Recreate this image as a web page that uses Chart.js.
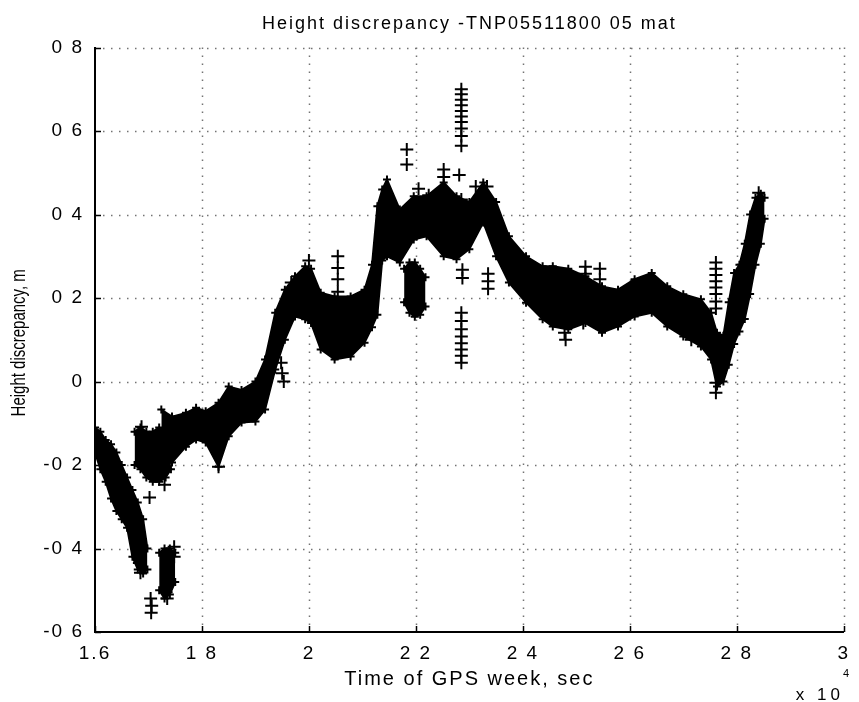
<!DOCTYPE html>
<html>
<head>
<meta charset="utf-8">
<title>Height discrepancy</title>
<script src="https://cdn.jsdelivr.net/npm/chart.js@4.4.1/dist/chart.umd.min.js"></script>
<style>
  html, body { margin: 0; padding: 0; background: #fff; }
  #wrap { width: 859px; height: 702px; }
</style>
</head>
<body>
<div id="wrap"><canvas id="hdChart" width="859" height="702"></canvas></div>
<script>
/* ── axis ticks / labels (as printed on the scan) ── */
const xTicks = [1.6, 1.8, 2.0, 2.2, 2.4, 2.6, 2.8, 3.0];
const xTickLabels = ['1.6', '1 8', '2', '2 2', '2 4', '2 6', '2 8', '3'];
const yTicks = [-0.6, -0.4, -0.2, 0, 0.2, 0.4, 0.6, 0.8];
const yTickLabels = ['-0 6', '-0 4', '-0 2', '0', '0 2', '0 4', '0 6', '0 8'];

/* ── dense trace, read as upper / lower edge of the marker band (time in 1e4 s) ── */
// first descending run
const bandAx = [1.600, 1.610, 1.620, 1.630, 1.640, 1.650, 1.660, 1.670, 1.680, 1.690, 1.698];
const bandAhi = [-0.11, -0.12, -0.14, -0.15, -0.17, -0.20, -0.23, -0.26, -0.29, -0.33, -0.40];
const bandAlo = [-0.17, -0.21, -0.24, -0.28, -0.31, -0.33, -0.35, -0.42, -0.45, -0.46, -0.45];
// cluster near -0.15
const bandBx = [1.674, 1.685, 1.696, 1.708, 1.720, 1.732, 1.742];
const bandBhi = [-0.12, -0.11, -0.12, -0.12, -0.11, -0.12, -0.14];
const bandBlo = [-0.20, -0.21, -0.23, -0.24, -0.24, -0.23, -0.21];
// cluster near -0.45
const bandCx = [1.720, 1.730, 1.740, 1.750];
const bandChi = [-0.41, -0.40, -0.40, -0.41];
const bandClo = [-0.50, -0.52, -0.51, -0.48];
// main run 1.72 .. 2.85
const mainX = [1.724, 1.744, 1.770, 1.789, 1.807, 1.831, 1.850, 1.874, 1.900, 1.918,
  1.937, 1.955, 1.974, 1.993, 2.004, 2.022, 2.048, 2.078, 2.104, 2.118,
  2.128, 2.137, 2.146, 2.170, 2.196, 2.220, 2.252, 2.276, 2.300, 2.326,
  2.350, 2.374, 2.406, 2.437, 2.456, 2.485, 2.517, 2.548, 2.578, 2.609,
  2.641, 2.670, 2.700, 2.733, 2.752, 2.763, 2.775, 2.785, 2.795, 2.805,
  2.815, 2.825, 2.835, 2.845, 2.852];
const mainHi = [-0.067, -0.084, -0.075, -0.063, -0.071, -0.051, -0.012, -0.020, 0.000, 0.053,
  0.165, 0.220, 0.252, 0.276, 0.270, 0.213, 0.204, 0.204, 0.220, 0.280,
  0.420, 0.460, 0.484, 0.412, 0.444, 0.444, 0.477, 0.444, 0.430, 0.477,
  0.430, 0.348, 0.300, 0.276, 0.276, 0.270, 0.252, 0.228, 0.220, 0.245,
  0.260, 0.228, 0.209, 0.197, 0.165, 0.117, 0.110, 0.190, 0.260, 0.280,
  0.330, 0.400, 0.440, 0.450, 0.440];
const mainLo = [-0.194, -0.194, -0.156, -0.139, -0.146, -0.204, -0.131, -0.098, -0.096, -0.067,
  0.029, 0.100, 0.156, 0.149, 0.140, 0.077, 0.053, 0.060, 0.093, 0.130,
  0.160, 0.290, 0.300, 0.285, 0.340, 0.348, 0.300, 0.293, 0.317, 0.381,
  0.300, 0.237, 0.189, 0.149, 0.132, 0.125, 0.140, 0.117, 0.132, 0.156,
  0.165, 0.132, 0.108, 0.084, 0.053, -0.012, 0.000, 0.040, 0.090, 0.120,
  0.150, 0.210, 0.280, 0.330, 0.390];
// low cluster under the 2.2 peak
const bandEx = [2.178, 2.188, 2.198, 2.208, 2.218];
const bandEhi = [0.270, 0.285, 0.285, 0.270, 0.250];
const bandElo = [0.190, 0.165, 0.155, 0.160, 0.180];

/* ── isolated '+' markers ── */
const outX = [1.683, 1.685, 1.687, 1.689, 1.702, 1.730, 1.704, 1.706, 1.705, 1.733,
  1.735, 1.748, 1.748, 1.831, 1.948, 1.950, 1.953, 1.967, 2.000, 2.054,
  2.054, 2.054, 2.054, 2.183, 2.183, 2.205, 2.224, 2.252, 2.252, 2.281,
  2.285, 2.285, 2.285, 2.285, 2.285, 2.285, 2.285, 2.285, 2.285, 2.285,
  2.285, 2.285, 2.287, 2.287,
  2.285, 2.285, 2.285, 2.285, 2.285, 2.285, 2.285, 2.285,
  2.312, 2.333, 2.335, 2.335, 2.335, 2.478, 2.480, 2.513, 2.517, 2.517,
  2.544, 2.544, 2.715,
  2.761, 2.761, 2.761, 2.761, 2.761, 2.761, 2.761, 2.761, 2.761, 2.761, 2.841];
const outY = [-0.435, -0.458, -0.108, -0.130, -0.278, -0.247, -0.520, -0.537, -0.554, -0.505,
  -0.520, -0.396, -0.420, -0.204, 0.045, 0.020, 0.000, 0.237, 0.290, 0.300,
  0.272, 0.245, 0.215, 0.556, 0.520, 0.462, 0.446, 0.508, 0.490, 0.495,
  0.700, 0.688, 0.675, 0.662, 0.648, 0.635, 0.622, 0.606, 0.588, 0.565,
  0.436, 0.405, 0.268, 0.248,
  0.165, 0.145, 0.125, 0.108, 0.092, 0.077, 0.062, 0.045,
  0.467, 0.467, 0.258, 0.240, 0.222, 0.117, 0.100, 0.140, 0.275, 0.258,
  0.270, 0.245, 0.100,
  0.285, 0.270, 0.255, 0.240, 0.225, 0.210, 0.192, 0.175, -0.003, -0.027, 0.452];

const titleText = 'Height discrepancy -TNP05511800 05 mat';
const xTitleText = 'Time of GPS week, sec';
const yTitleText = 'Height discrepancy, m';
const FONT = "'Liberation Sans', Arial, Helvetica, sans-serif";

const pts = (xs, ys) => xs.map((x, i) => ({ x, y: ys[i] }));
const band = (data, fill) => ({
  data, fill, showLine: true, tension: 0,
  borderColor: '#000', backgroundColor: '#000', borderWidth: 2,
  pointStyle: 'cross', pointRadius: 4, pointBorderWidth: 2, pointBorderColor: '#000'
});

/* dotted grid, inward ticks, rotated y label, x10^4 note */
const matlabAxes = {
  id: 'matlabAxes',
  beforeDraw(chart) { chart.ctx.letterSpacing = '2px'; },
  beforeDatasetsDraw(chart) {
    const { ctx, chartArea: a, scales: { x, y } } = chart;
    ctx.save();
    ctx.strokeStyle = 'rgba(0,0,0,0.55)';
    ctx.lineWidth = 1.5;
    ctx.setLineDash([1.5, 6.5]);
    ctx.beginPath();
    xTicks.forEach(v => {
      if (v === xTicks[0]) return;
      const px = Math.round(x.getPixelForValue(v)) + 0.5;
      ctx.moveTo(px, a.top); ctx.lineTo(px, a.bottom);
    });
    yTicks.forEach(v => {
      if (v === yTicks[0]) return;
      const py = Math.round(y.getPixelForValue(v)) + 0.5;
      ctx.moveTo(a.left, py); ctx.lineTo(a.right, py);
    });
    ctx.stroke();
    ctx.restore();
  },
  afterDatasetsDraw(chart) {
    const { ctx, chartArea: a, scales: { x, y } } = chart;
    ctx.save();
    ctx.strokeStyle = '#000';
    ctx.lineWidth = 1.5;
    ctx.beginPath();
    xTicks.forEach(v => {
      const px = Math.round(x.getPixelForValue(v)) + 0.5;
      ctx.moveTo(px, a.bottom); ctx.lineTo(px, a.bottom - 6);
    });
    yTicks.forEach(v => {
      const py = Math.round(y.getPixelForValue(v)) + 0.5;
      ctx.moveTo(a.left, py); ctx.lineTo(a.left + 6, py);
    });
    ctx.stroke();
    ctx.restore();
  },
  afterDraw(chart) {
    const { ctx, chartArea: a } = chart;
    ctx.save();
    ctx.fillStyle = '#000';
    ctx.letterSpacing = '0px';
    ctx.font = '15px ' + FONT;
    ctx.textAlign = 'center';
    ctx.textBaseline = 'middle';
    ctx.translate(20, (a.top + a.bottom) / 2 + 3);
    ctx.rotate(-Math.PI / 2);
    ctx.scale(1, 1.3);
    ctx.fillText(yTitleText, 0, 0);
    ctx.restore();

    ctx.save();
    ctx.fillStyle = '#000';
    ctx.letterSpacing = '4px';
    ctx.font = '17px ' + FONT;
    ctx.textAlign = 'right';
    ctx.textBaseline = 'alphabetic';
    ctx.fillText('x 10', 844, 700);
    ctx.letterSpacing = '0px';
    ctx.font = '11px ' + FONT;
    ctx.textAlign = 'left';
    ctx.fillText('4', 843, 677);
    ctx.restore();
  }
};

new Chart(document.getElementById('hdChart'), {
  type: 'scatter',
  data: {
    datasets: [
      band(pts(bandAx, bandAhi), false), band(pts(bandAx, bandAlo), '-1'),
      band(pts(bandBx, bandBhi), false), band(pts(bandBx, bandBlo), '-1'),
      band(pts(bandCx, bandChi), false), band(pts(bandCx, bandClo), '-1'),
      band(pts(mainX, mainHi), false), band(pts(mainX, mainLo), '-1'),
      band(pts(bandEx, bandEhi), false), band(pts(bandEx, bandElo), '-1'),
      {
        data: pts(outX, outY), showLine: false,
        pointStyle: 'cross', pointRadius: 6.5, pointBorderWidth: 2,
        borderColor: '#000', backgroundColor: '#000'
      }
    ]
  },
  options: {
    responsive: false, animation: false,
    layout: { padding: { top: 8, right: 8, left: 0, bottom: 0 } },
    plugins: {
      legend: { display: false }, tooltip: { enabled: false },
      title: {
        display: true, text: titleText, fullSize: false, color: '#000',
        font: { size: 18, family: FONT, weight: 'normal' }, padding: { top: 5, bottom: 13 }
      }
    },
    scales: {
      x: {
        type: 'linear', min: 1.6, max: 3,
        afterBuildTicks: s => { s.ticks = xTicks.map(v => ({ value: v })); },
        afterFit: s => { s.height = 70; },
        grid: { display: false, drawTicks: false },
        border: { display: true, color: '#000', width: 2 },
        ticks: { color: '#000', padding: 10, maxRotation: 0, autoSkip: false,
          font: { size: 19, family: FONT }, callback: (v, i) => xTickLabels[i] },
        title: { display: true, text: xTitleText, color: '#000',
          font: { size: 20, family: FONT }, padding: { top: 0, bottom: 11 } }
      },
      y: {
        type: 'linear', min: -0.6, max: 0.8,
        afterBuildTicks: s => { s.ticks = yTicks.map(v => ({ value: v })); },
        afterFit: s => { s.width = 95; },
        grid: { display: false, drawTicks: false },
        border: { display: true, color: '#000', width: 2 },
        ticks: { color: '#000', padding: 11, autoSkip: false,
          font: { size: 19, family: FONT }, callback: (v, i) => yTickLabels[i] }
      }
    }
  },
  plugins: [matlabAxes]
});
</script>
</body>
</html>
